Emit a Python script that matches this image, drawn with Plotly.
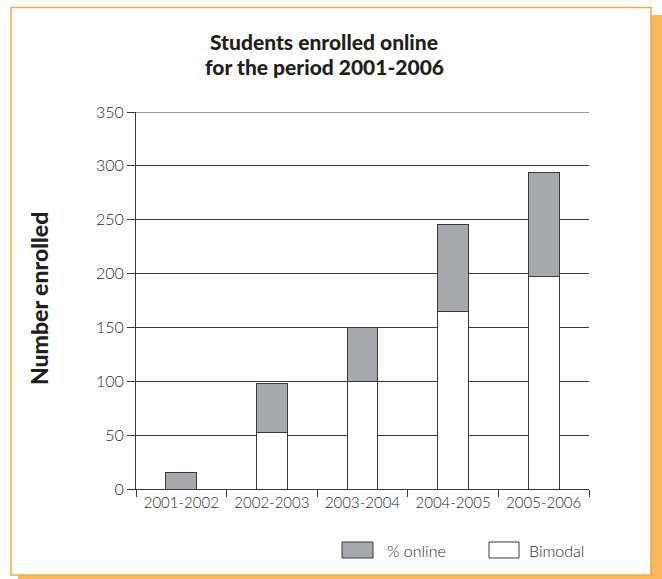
import plotly.graph_objects as go

categories = ["2001-2002", "2002-2003", "2003-2004", "2004-2005", "2005-2006"]
bimodal = [0, 52, 100, 165, 197]
online = [15, 46, 50, 81, 97]
y_ticks = [0, 50, 100, 150, 200, 250, 300, 350]

W, H = 662, 579
L, R, T, B = 136, 589, 112, 489
PW, PH = R - L, B - T


def xp(px):
    return (px - L) / PW


def yp(py):
    return (B - py) / PH


FONT = "Lato"
GRAY = "#a7a9ac"
EDGE = "#3a3a3a"
ORANGE = "#f7a83a"
SHADOW = "#fbb85c"
TXT = "#231f20"
TICK = "#2a2a2a"

fig = go.Figure()
fig.add_bar(x=categories, y=bimodal, name="Bimodal",
            marker=dict(color="white", line=dict(color=EDGE, width=1)),
            width=0.34, showlegend=False)
fig.add_bar(x=categories, y=online, name="% online",
            marker=dict(color=GRAY, line=dict(color=EDGE, width=1)),
            width=0.34, showlegend=False)

shapes = [
    # shadow
    dict(type="rect", xref="paper", yref="paper", layer="below",
         x0=xp(18), x1=xp(663), y0=yp(15), y1=yp(580),
         fillcolor=SHADOW, line=dict(width=0)),
    # card
    dict(type="rect", xref="paper", yref="paper", layer="below",
         x0=xp(11), x1=xp(651), y0=yp(7.5), y1=yp(575),
         fillcolor="white", line=dict(color=ORANGE, width=1.5)),
    # top grid line at the range edge
    dict(type="line", xref="paper", yref="y", x0=0, x1=1, y0=350, y1=350,
         line=dict(color=EDGE, width=1)),
    # legend swatches
    dict(type="rect", xref="paper", yref="paper",
         x0=xp(342), x1=xp(373), y0=yp(542), y1=yp(558),
         fillcolor=GRAY, line=dict(color=EDGE, width=1)),
    dict(type="rect", xref="paper", yref="paper",
         x0=xp(489), x1=xp(519), y0=yp(542), y1=yp(558),
         fillcolor="white", line=dict(color=EDGE, width=1)),
]

title_font = dict(family=FONT, size=21, color=TXT, weight=900)
annotations = [
    dict(text="Students enrolled online",
         xref="paper", yref="paper", x=xp(324), y=yp(41),
         xanchor="center", yanchor="middle", showarrow=False,
         font=title_font),
    dict(text="for the period 2001-2006",
         xref="paper", yref="paper", x=xp(324), y=yp(67),
         xanchor="center", yanchor="middle", showarrow=False,
         font=title_font),
    dict(text="Number enrolled", textangle=-90,
         xref="paper", yref="paper", x=xp(39), y=yp(299),
         xanchor="center", yanchor="middle", showarrow=False,
         font=dict(family=FONT, size=23, color=TXT, weight=900)),
    dict(text="% online", xref="paper", yref="paper", x=xp(385), y=yp(550),
         xanchor="left", yanchor="middle", showarrow=False,
         font=dict(family=FONT, size=16, color=TICK, weight=300)),
    dict(text="Bimodal", xref="paper", yref="paper", x=xp(527), y=yp(550),
         xanchor="left", yanchor="middle", showarrow=False,
         font=dict(family=FONT, size=16, color=TICK, weight=300)),
]

fig.update_layout(
    width=W, height=H,
    margin=dict(l=L, r=W - R, t=T, b=H - B, pad=0),
    barmode="stack",
    paper_bgcolor="white", plot_bgcolor="rgba(0,0,0,0)",
    shapes=shapes, annotations=annotations,
    font=dict(family=FONT, size=15, color=TICK),
    xaxis=dict(type="category", tickson="boundaries", ticks="outside",
               ticklen=7, tickcolor=EDGE, showline=True, linecolor=EDGE,
               linewidth=1, showgrid=False, layer="above traces",
               tickfont=dict(family=FONT, size=15, color=TICK, weight=300)),
    yaxis=dict(range=[0, 350], tickvals=y_ticks, ticks="outside",
               ticklen=8, tickcolor=EDGE, showline=True, linecolor=EDGE,
               linewidth=1, showgrid=True, gridcolor=EDGE, gridwidth=1,
               zeroline=False, layer="above traces",
               tickfont=dict(family=FONT, size=16, color=TICK, weight=300)),
)

fig.write_html("out.html", config={"displayModeBar": False},
               post_script="document.body.style.margin='0px';")
